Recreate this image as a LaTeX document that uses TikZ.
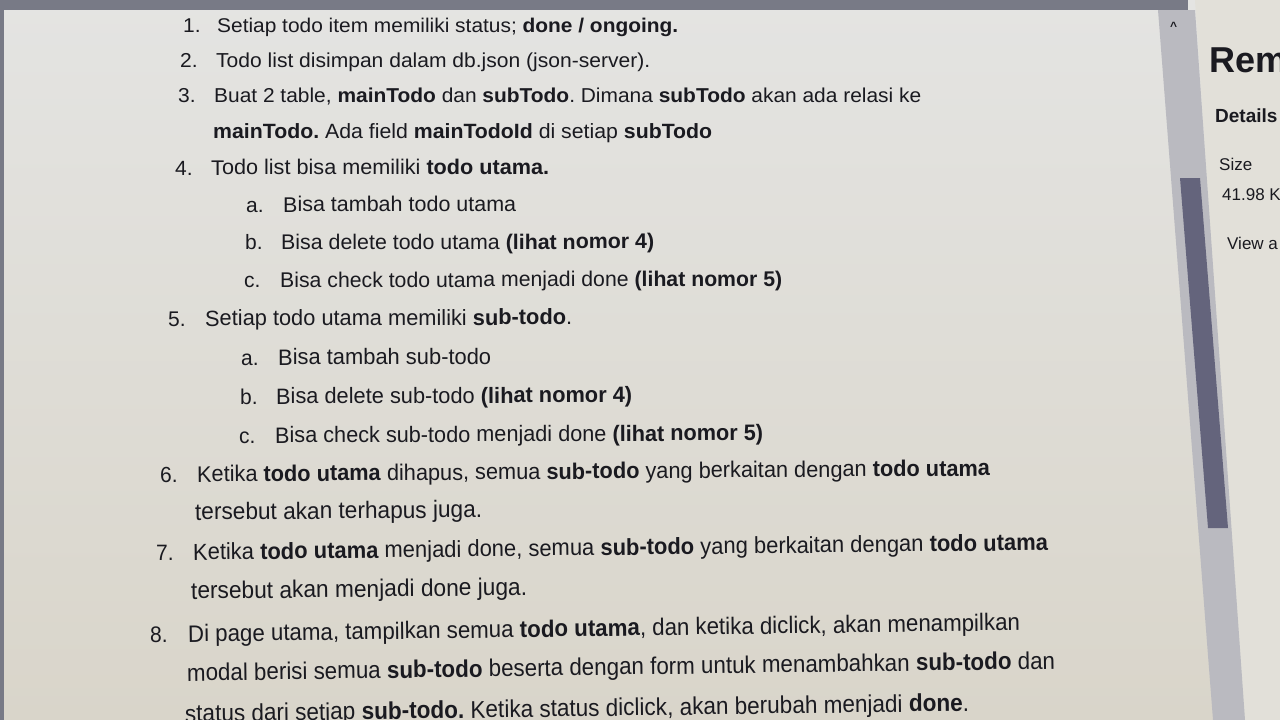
\documentclass[tikz,border=0pt]{standalone}
\usepackage{fontspec}
\setmainfont{Liberation Sans}
\usepackage{graphicx}
\frenchspacing
\definecolor{pagetop}{RGB}{228,228,226}
\definecolor{pagebot}{RGB}{217,213,202}
\definecolor{ink}{RGB}{26,26,32}
\definecolor{topbar}{RGB}{120,122,134}
\definecolor{track}{RGB}{186,186,192}
\definecolor{thumb}{RGB}{100,100,124}
\definecolor{panel}{RGB}{226,224,217}
\tikzset{
  txt/.style={anchor=base west, inner sep=0pt, text=ink, font=\fontsize{21}{25}\selectfont},
  num/.style={txt},
  side/.style={anchor=base west, inner sep=0pt, text=ink},
}
% width, vertical factor, text
\newcommand\fitw[3]{\scalebox{1}[#2]{\resizebox{#1pt}{!}{#3}}}
\newcommand\numv[2]{\scalebox{1}[#1]{#2}}
\begin{document}
\begin{tikzpicture}[x=1pt,y=-1pt]
\useasboundingbox (0,0) rectangle (1280,720);
\begin{scope}
\clip (0,0) rectangle (1280,720);
% background page
\shade[top color=pagetop,bottom color=pagebot] (0,0) rectangle (1280,720);
% right panel
\fill[panel] (1195,0) -- (1280,0) -- (1280,720) -- (1243,720) -- cycle;
% top bar
\fill[topbar] (0,0) rectangle (1188,10);
% left edge
\fill[topbar] (0,0) rectangle (4,720);
% scroll track and thumb
\fill[track] (1158,10) -- (1195,10) -- (1245,720) -- (1213,720) -- cycle;
\fill[thumb] (1180,178) -- (1200,178) -- (1228,528) -- (1208,528) -- cycle;
\node[side, font=\fontsize{12}{12}\selectfont\bfseries] (caret) at (1170,30) {\textasciicircum};
% right panel text
\node[side, font=\fontsize{36}{40}\selectfont\bfseries] (rem) at (1209,72) {Rem};
\node[side, font=\fontsize{19}{22}\selectfont\bfseries] (details) at (1215,122) {Details};
\node[side, font=\fontsize{17}{20}\selectfont] (size) at (1219,170) {Size};
\node[side, font=\fontsize{17}{20}\selectfont] (sizev) at (1222,200) {41.98 K};
\node[side, font=\fontsize{17}{20}\selectfont] (view) at (1227,249) {View a};

% numbers
\node[num] (n1) at (183,32) {\numv{0.95}{1.}};
\node[num] (n2) at (180,67) {\numv{0.96}{2.}};
\node[num] (n3) at (178,102.5) {\numv{0.96}{3.}};
\node[num] (n4) at (175,175) {\numv{0.98}{4.}};
\node[num] (n4a) at (246,212) {\numv{0.99}{a.}};
\node[num] (n4b) at (245,249.5) {\numv{0.99}{b.}};
\node[num] (n4c) at (244,287.5) {\numv{1.0}{c.}};
\node[num] (n5) at (168,326) {\numv{1.01}{5.}};
\node[num] (n5a) at (241,365) {\numv{1.02}{a.}};
\node[num] (n5b) at (240,404) {\numv{1.02}{b.}};
\node[num] (n5c) at (239,443) {\numv{1.03}{c.}};
\node[num] (n6) at (160,482) {\numv{1.04}{6.}};
\node[num] (n7) at (156,560) {\numv{1.06}{7.}};
\node[num] (n8) at (150,642) {\numv{1.07}{8.}};

% lines
\node[txt] (t1) at (217,32) {\fitw{461}{0.95}{Setiap todo item memiliki status; \textbf{done / ongoing.}}};
\node[txt] (t2) at (216,67) {\fitw{434}{0.96}{Todo list disimpan dalam db.json (json-server).}};
\node[txt] (t3) at (214,102.5) {\fitw{707}{0.96}{Buat 2 table, \textbf{mainTodo} dan \textbf{subTodo}. Dimana \textbf{subTodo} akan ada relasi ke}};
\node[txt] (t3c) at (213,138.5) {\fitw{499}{0.97}{\textbf{mainTodo.} Ada field \textbf{mainTodoId} di setiap \textbf{subTodo}}};
\node[txt, rotate=0.05] (t4) at (211,175) {\fitw{338}{0.98}{Todo list bisa memiliki \textbf{todo utama.}}};
\node[txt, rotate=0.1] (t4a) at (283,212) {\fitw{233}{0.99}{Bisa tambah todo utama}};
\node[txt, rotate=0.1] (t4b) at (281,249.5) {\fitw{373}{0.99}{Bisa delete todo utama \textbf{(lihat nomor 4)}}};
\node[txt, rotate=0.15] (t4c) at (280,287.5) {\fitw{502}{1.0}{Bisa check todo utama menjadi done \textbf{(lihat nomor 5)}}};
\node[txt, rotate=0.2] (t5) at (205,326) {\fitw{367}{1.01}{Setiap todo utama memiliki \textbf{sub-todo}.}};
\node[txt, rotate=0.2] (t5a) at (278,365) {\fitw{213}{1.02}{Bisa tambah sub-todo}};
\node[txt, rotate=0.25] (t5b) at (276,404) {\fitw{356}{1.02}{Bisa delete sub-todo \textbf{(lihat nomor 4)}}};
\node[txt, rotate=0.3] (t5c) at (275,443) {\fitw{488}{1.03}{Bisa check sub-todo menjadi done \textbf{(lihat nomor 5)}}};
\node[txt, rotate=0.45] (t6) at (197,482) {\fitw{793}{1.04}{Ketika \textbf{todo utama} dihapus, semua \textbf{sub-todo} yang berkaitan dengan \textbf{todo utama}}};
\node[txt, rotate=0.5] (t6c) at (195,520) {\fitw{287}{1.05}{tersebut akan terhapus juga.}};
\node[txt, rotate=0.65] (t7) at (193,560) {\fitw{855}{1.06}{Ketika \textbf{todo utama} menjadi done, semua \textbf{sub-todo} yang berkaitan dengan \textbf{todo utama}}};
\node[txt, rotate=0.65] (t7c) at (191,599) {\fitw{336}{1.06}{tersebut akan menjadi done juga.}};
\node[txt, rotate=0.8] (t8) at (188,642) {\fitw{832}{1.07}{Di page utama, tampilkan semua \textbf{todo utama}, dan ketika diclick, akan menampilkan}};
\node[txt, rotate=0.8] (t8c) at (187,681) {\fitw{868}{1.08}{modal berisi semua \textbf{sub-todo} beserta dengan form untuk menambahkan \textbf{sub-todo} dan}};
\node[txt, rotate=0.8] (t8d) at (185,722) {\fitw{784}{1.08}{status dari setiap \textbf{sub-todo.} Ketika status diclick, akan berubah menjadi \textbf{done}.}};
\end{scope}
\end{tikzpicture}
\end{document}
